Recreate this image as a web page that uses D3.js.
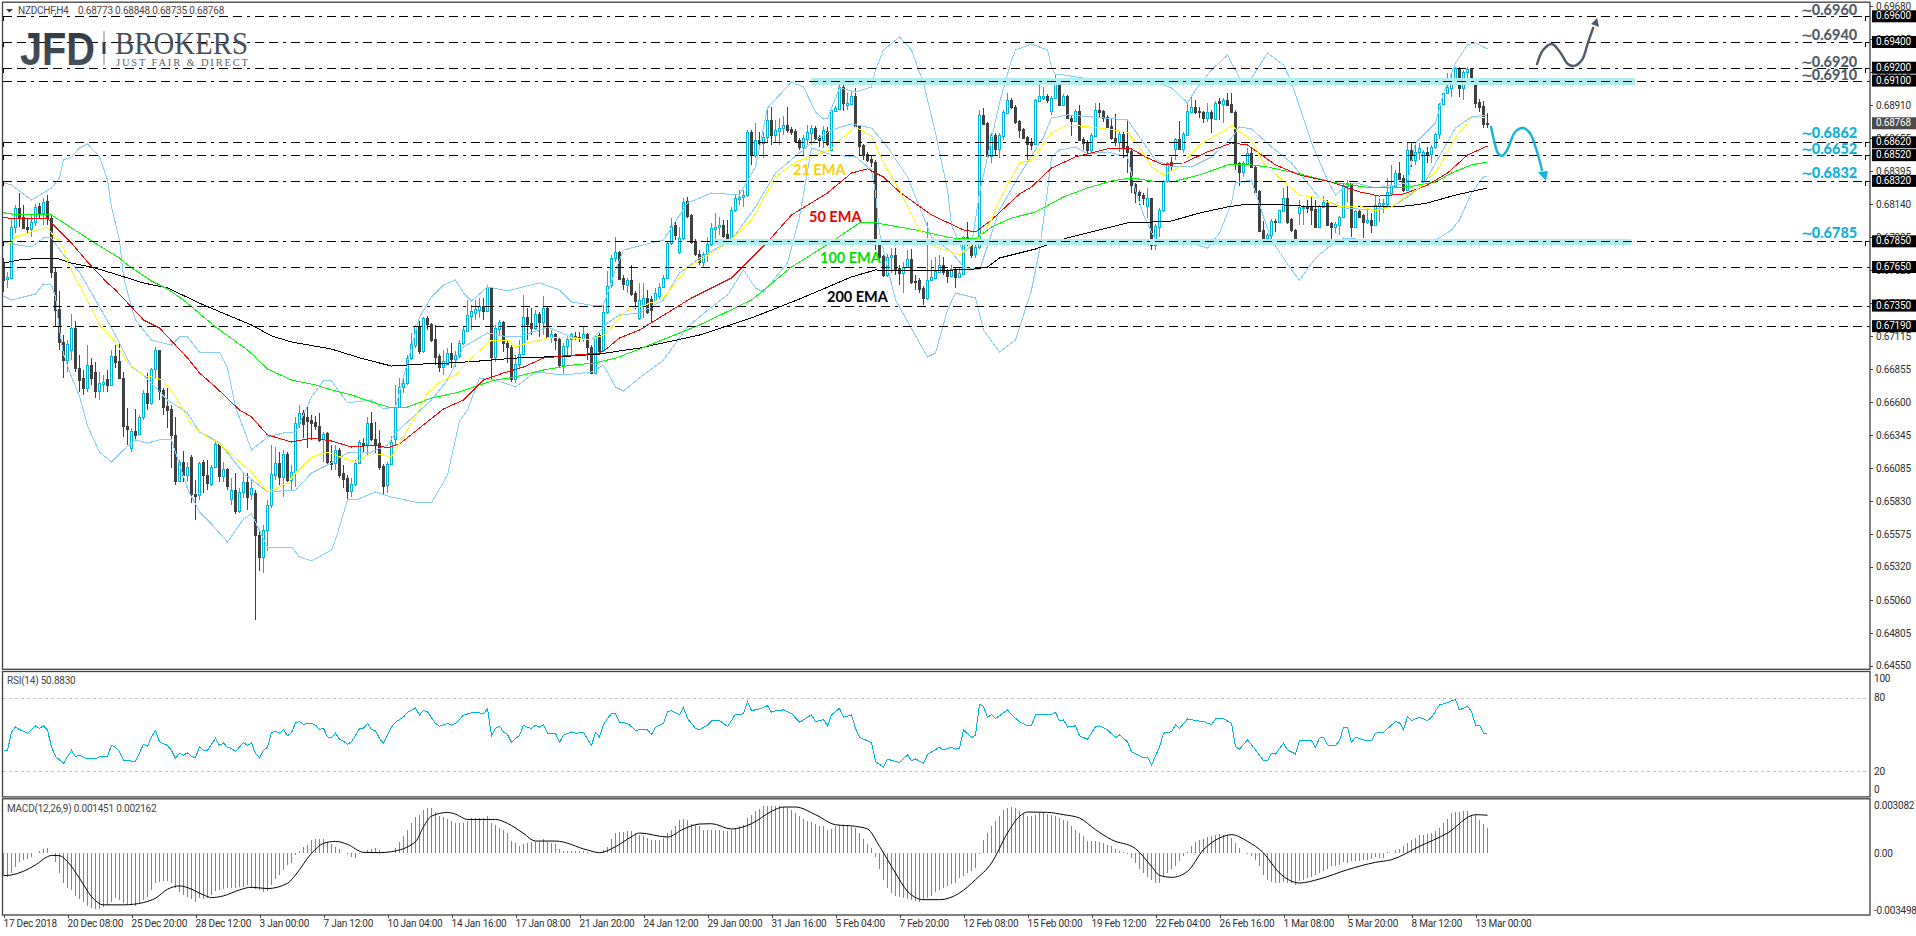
<!DOCTYPE html>
<html><head><meta charset="utf-8">
<style>
html,body{margin:0;padding:0;background:#fff;overflow:hidden}
svg{display:block}
text{font-family:Roboto,"Liberation Sans",sans-serif}
.tick line{stroke:#404040}
.domain{display:none}
</style>
<script src="https://cdnjs.cloudflare.com/ajax/libs/d3/7.8.5/d3.min.js"></script>
</head><body><svg id="c" width="1916" height="936"></svg>
<script>
// ---------- DATA: prices in points (1e-5) ----------
const opens=[67681,67557,67565,67961,68109,68039,67961,67946,68000,68125,68070,68164,68031,67611,67324,67067,66927,67005,67176,66865,66787,66709,66887,66834,66686,66740,66779,66733,66958,66919,66787,66414,66243,66375,66351,66484,66670,66593,66857,67005,66694,66569,66546,66344,65986,66134,66033,66172,65885,65877,66134,66033,65962,66095,66274,66025,66079,65846,65916,65753,65900,65978,65885,65892,65566,65395,65605,65800,66033,66126,66017,66196,65994,66056,66437,66515,66484,66460,66445,66414,66313,66359,66141,66126,66227,66048,66009,65908,65962,66126,66281,66274,66437,66313,66281,66102,65955,66118,66313,66561,66717,66748,66942,67043,67191,66997,67254,67207,67090,66958,66872,66896,66981,66935,66958,67059,67152,67269,67292,67316,67347,67308,67495,66950,67168,67223,67059,67028,66779,66896,66973,67261,67215,67176,67285,67223,67331,67106,67129,67090,66887,67036,67090,67114,67106,67098,67129,67028,66826,67121,67005,67300,67510,67720,67767,67565,67510,67549,67448,67254,67347,67409,67401,67393,67425,67495,67565,67837,67977,67767,67876,68164,68055,67853,67751,67689,67751,67829,67946,67961,67977,67907,67860,68094,68179,68195,68210,68700,68521,68638,68615,68661,68794,68677,68708,68731,68755,68724,68708,68638,68584,68646,68693,68731,68661,68638,68708,68560,68864,68879,69050,68910,68918,68980,68747,68599,68529,68490,68467,67853,67736,67588,67728,67744,67643,67604,67650,67712,67541,67549,67487,67409,67549,67565,67611,67666,67619,67580,67635,67573,67596,67884,67829,67751,67806,68833,68770,68514,68677,68568,68669,68848,68949,68895,68786,68724,68661,68615,68607,68941,68965,68980,68864,68965,69074,68910,68980,68809,68786,68864,68646,68623,68560,68669,68871,68864,68817,68747,68654,68623,68685,68591,68553,68296,68234,68210,68125,68187,67821,67961,68094,68319,68467,68568,68646,68568,68677,68856,68895,68864,68856,68809,68856,68801,68941,68918,68949,68918,68856,68459,68389,68451,68537,68428,68241,67938,67876,67899,68008,68000,68086,68187,68024,67938,68070,68109,68117,68117,68101,67961,68117,68148,67993,67961,67977,68039,68280,68304,67961,68086,68055,68000,68016,67977,68125,68140,68140,68226,68280,68381,68343,68249,68560,68483,68545,68311,68545,68529,68584,68685,68918,69004,69043,69105,69198,69043,69167,69198,69105,68934,68903,68773];
const highs=[67720,67611,68016,68132,68226,68132,68031,68055,68140,68148,68187,68210,68055,67650,67464,67121,67082,67285,67230,66966,66849,67043,66942,66911,66834,66810,66849,67005,67043,67059,66834,66554,66398,66546,66499,66694,66826,66865,67028,67005,66709,66709,66577,66484,66149,66219,66134,66188,65994,66134,66149,66149,66110,66289,66289,66134,66087,66009,66048,65931,66048,66048,65994,65916,65605,65644,65838,66266,66250,66211,66227,66211,66110,66484,66577,66538,66561,66499,66491,66515,66367,66367,66266,66266,66243,66110,66033,66009,66149,66305,66320,66484,66523,66445,66382,66118,66134,66336,66733,66787,66787,66966,67137,67199,67230,67261,67269,67215,67199,66973,67005,67020,67059,66997,67082,67184,67393,67355,67393,67409,67409,67510,67495,67199,67238,67230,67082,67043,66966,67082,67432,67331,67331,67316,67300,67425,67339,67160,67137,67098,67059,67114,67137,67145,67145,67184,67137,67043,67121,67137,67355,67619,67744,67884,67775,67588,67565,67666,67464,67526,67526,67471,67425,67487,67526,67588,67853,68031,68008,67961,68187,68195,68063,67868,67782,67767,67884,67993,68070,68039,68016,68016,68117,68210,68249,68249,68716,68716,68770,68700,68700,68895,68895,68794,68809,68825,68895,68739,68724,68654,68677,68755,68755,68747,68677,68747,68739,68871,68903,69089,69105,69004,69027,69043,68755,68607,68545,68521,68483,67860,67744,67751,67798,67798,67666,67689,67782,67790,67588,67565,67503,68000,67705,67728,67744,67728,67635,67666,67650,67650,67891,68000,67860,67821,68871,68887,68778,68693,68693,68693,68871,69004,68965,68910,68794,68731,68669,68654,68957,69089,69050,68996,68980,69151,69105,68996,68988,68825,68879,68910,68661,68638,68693,68926,68926,68871,68833,68809,68840,68700,68700,68794,68560,68304,68249,68226,68265,68187,67985,68109,68327,68467,68506,68654,68786,68700,68934,68980,68949,68895,68864,68926,68871,68941,68965,68965,69004,69004,68871,68467,68475,68576,68576,68444,68249,68008,67915,68024,68024,68094,68265,68280,68031,67946,68171,68132,68171,68195,68171,68132,68202,68171,68000,68000,68047,68304,68327,68304,68094,68101,68063,68109,68070,68210,68187,68179,68343,68444,68405,68467,68366,68615,68615,68615,68615,68560,68584,68599,68693,68926,69012,69159,69151,69206,69206,69183,69206,69198,69105,68957,68941,68848];
const lows=[67456,67487,67557,67915,67961,67946,67915,67884,67969,68031,67977,67977,67565,67184,67005,66787,66834,66927,66834,66678,66655,66678,66733,66631,66616,66678,66678,66725,66865,66779,66328,66266,66211,66305,66344,66460,66538,66577,66787,66616,66499,66398,66087,65955,65978,65978,65978,65815,65682,65838,65892,65916,65947,66087,65978,65978,65916,65800,65729,65737,65854,65760,65838,64905,65286,65270,65441,65776,65994,65955,65861,65970,65916,65939,66398,66320,66243,66305,66382,66289,66134,66118,66071,66071,66009,65931,65846,65861,65947,66118,66211,66188,66297,66204,66071,65877,65892,66110,66266,66554,66670,66733,66927,67020,66973,66981,67160,67067,66887,66834,66810,66887,66865,66872,66942,67043,67145,67160,67238,67254,67238,67300,66771,66911,67121,66989,66904,66756,66748,66865,66966,67082,67121,67160,67106,67121,67098,67059,67005,66865,66818,66950,66966,67082,67067,67067,66927,66818,66818,66966,66989,67285,67487,67689,67549,67471,67448,67425,67324,67238,67254,67285,67223,67378,67393,67487,67557,67821,67860,67751,67860,68031,67829,67736,67666,67650,67689,67814,67845,67899,67876,67837,67845,68078,68132,68117,68195,68444,68498,68560,68498,68615,68599,68615,68599,68677,68693,68677,68615,68560,68514,68599,68599,68638,68584,68576,68591,68560,68856,68871,68864,68871,68910,68739,68521,68483,68467,68428,67782,67712,67573,67573,67604,67588,67510,67448,67643,67518,67471,67448,67355,67393,67541,67557,67604,67588,67526,67573,67487,67565,67588,67814,67720,67720,67790,68755,68506,68459,68521,68498,68638,68840,68879,68763,68654,68646,68483,68560,68599,68934,68949,68926,68833,68957,68903,68903,68801,68669,68778,68630,68560,68514,68545,68661,68809,68778,68731,68638,68591,68545,68498,68381,68226,68148,68132,68132,68031,67782,67782,67884,68078,68304,68405,68483,68560,68537,68669,68848,68840,68809,68770,68778,68693,68794,68794,68770,68903,68848,68405,68280,68350,68444,68420,68226,67923,67845,67821,67837,67923,67993,68078,67985,67923,67860,67977,67977,68070,67977,67954,67954,68109,67969,67860,67915,67899,68031,68156,67884,67954,68031,67876,67985,67915,67969,68000,68070,68109,68210,68265,68327,68234,68241,68428,68444,68483,68304,68459,68459,68568,68646,68910,68996,68973,69097,68973,68949,69081,69081,68887,68856,68731,68735];
const closes=[67549,67573,67961,68109,68031,67954,67946,68000,68117,68070,68156,68031,67611,67316,67067,66927,67051,67176,66865,66771,66709,66887,66787,66686,66748,66756,66733,66958,66911,66787,66414,66390,66375,66344,66484,66670,66593,66857,67005,66686,66561,66538,66344,65986,66134,66033,66095,65885,65869,66126,66033,65970,66095,66274,66025,66079,65947,65916,65753,65900,65978,65861,65931,65566,65395,65605,65800,66040,66126,66017,66196,65994,66056,66437,66515,66429,66452,66437,66414,66305,66351,66134,66118,66227,66033,66001,65908,65962,66126,66289,66266,66437,66313,66274,66095,65947,66118,66289,66561,66717,66748,66942,67051,67191,66997,67254,67207,67082,66950,66872,66919,66981,66935,66966,67059,67160,67277,67308,67324,67347,67308,67495,66950,67176,67223,67059,67028,66779,66896,66973,67261,67207,67176,67285,67223,67331,67106,67129,67082,66887,67036,67090,67129,67106,67098,67129,67028,66826,67114,66997,67300,67503,67720,67767,67557,67518,67549,67440,67386,67393,67409,67300,67316,67448,67495,67565,67837,67969,67899,67876,68156,68047,67845,67751,67689,67751,67829,67954,67961,67977,67891,67860,68094,68187,68195,68210,68700,68521,68638,68615,68661,68794,68677,68716,68731,68755,68716,68700,68630,68584,68654,68700,68731,68654,68638,68716,68607,68871,68887,69050,68926,68926,68980,68747,68591,68521,68483,68467,67845,67728,67588,67728,67744,67627,67604,67650,67712,67534,67534,67479,67409,67549,67573,67619,67666,67611,67580,67635,67573,67604,67884,67829,67744,67806,68833,68763,68514,68677,68568,68677,68856,68949,68895,68778,68716,68654,68607,68599,68949,68980,68980,68949,68965,69074,68910,68980,68809,68786,68864,68638,68615,68560,68677,68871,68856,68809,68739,68654,68623,68685,68584,68545,68288,68226,68210,68187,68187,67821,67969,68094,68319,68459,68436,68646,68568,68685,68864,68895,68856,68856,68809,68856,68809,68926,68926,68949,68910,68856,68459,68389,68459,68537,68428,68234,67930,67876,67899,68008,68000,68094,68187,68000,67938,67860,68117,68117,68109,68094,67961,68125,68156,67977,67961,67985,68039,68288,68304,67961,68086,68039,68000,68016,67977,68132,68148,68148,68234,68288,68381,68335,68249,68560,68483,68545,68576,68545,68529,68584,68685,68918,69004,69050,69120,69198,69043,69167,69190,69089,68926,68895,68763,68768];

const ema21=[[1,67821],[3,67884],[7,67923],[11,67961],[12,67915],[15,67806],[16,67681],[20,67448],[24,67199],[28,67067],[31,66904],[35,66810],[40,66771],[43,66639],[47,66421],[51,66328],[54,66274],[59,66134],[62,66056],[66,65900],[71,65970],[73,66048],[77,66172],[81,66211],[85,66165],[88,66134],[92,66204],[95,66188],[97,66172],[104,66546],[106,66670],[109,66756],[113,66810],[117,66942],[122,67082],[126,67082],[128,67028],[131,67059],[136,67098],[142,67098],[147,67082],[151,67137],[154,67261],[157,67331],[159,67339],[165,67409],[171,67643],[177,67759],[181,67837],[187,68016],[193,68350],[198,68467],[207,68568],[209,68638],[213,68739],[217,68669],[220,68459],[224,68249],[229,67938],[233,67806],[239,67744],[243,67845],[247,68016],[249,68171],[254,68459],[257,68483],[262,68693],[266,68755],[269,68747],[274,68731],[281,68700],[284,68584],[287,68428],[290,68366],[294,68428],[299,68599],[307,68747],[312,68638],[315,68459],[319,68343],[324,68210],[329,68187],[334,68117],[339,68125],[343,68086],[347,68117],[350,68187],[355,68288],[359,68428],[363,68661],[367,68809],[371,68817]];
const ema50=[[0,68039],[2,68024],[11,68031],[12,67993],[17,67837],[21,67689],[26,67526],[28,67471],[32,67339],[35,67238],[39,67176],[46,66942],[49,66826],[53,66717],[59,66538],[62,66484],[66,66344],[72,66289],[77,66320],[82,66297],[87,66250],[93,66266],[96,66243],[99,66274],[104,66398],[110,66546],[115,66616],[120,66771],[125,66826],[130,66872],[135,66942],[140,66958],[149,66981],[151,67020],[154,67098],[159,67160],[172,67409],[182,67565],[191,67845],[197,68055],[206,68226],[212,68381],[216,68413],[220,68350],[224,68234],[232,68055],[240,67938],[243,67923],[247,68016],[254,68218],[257,68273],[262,68420],[268,68506],[276,68568],[282,68568],[286,68498],[290,68444],[295,68459],[301,68545],[307,68615],[311,68599],[318,68444],[324,68366],[332,68311],[339,68234],[344,68202],[350,68218],[356,68288],[361,68381],[366,68521],[371,68591]];
const ema100=[[0,68078],[1,68063],[12,68055],[22,67853],[29,67720],[31,67666],[37,67541],[41,67479],[45,67393],[53,67184],[61,67005],[66,66857],[72,66771],[78,66733],[82,66694],[87,66655],[92,66600],[97,66554],[101,66561],[107,66631],[114,66678],[119,66733],[123,66771],[128,66795],[135,66849],[142,66887],[148,66904],[153,66942],[159,67012],[174,67199],[187,67393],[197,67650],[207,67845],[214,67993],[217,68000],[228,67938],[237,67876],[243,67868],[247,67961],[252,68031],[258,68078],[265,68195],[271,68265],[277,68319],[282,68343],[287,68319],[292,68311],[299,68366],[306,68444],[312,68444],[316,68428],[324,68374],[332,68311],[342,68265],[351,68273],[358,68311],[362,68381],[367,68444],[371,68467]];
const ema200=[[0,67681],[4,67705],[10,67720],[13,67720],[17,67681],[22,67650],[27,67604],[35,67526],[41,67487],[50,67355],[62,67199],[67,67114],[72,67067],[82,67012],[86,66973],[90,66935],[97,66880],[105,66896],[112,66904],[119,66919],[128,66942],[135,66950],[142,66958],[149,66973],[154,66997],[159,67020],[174,67121],[187,67254],[199,67401],[212,67573],[218,67627],[232,67619],[243,67635],[246,67650],[249,67720],[254,67759],[258,67790],[266,67876],[272,67923],[281,67993],[287,68000],[292,68008],[299,68070],[306,68117],[311,68140],[316,68140],[324,68125],[332,68117],[342,68117],[351,68125],[356,68148],[363,68210],[371,68265]];
const bbUpper=[[0,68304],[2,68288],[7,68171],[12,68265],[14,68343],[15,68483],[17,68506],[19,68576],[21,68607],[24,68506],[26,68327],[27,68117],[29,67860],[30,67573],[32,67339],[33,67238],[37,67082],[42,67043],[44,67106],[46,67106],[49,66989],[54,66989],[56,66865],[58,66561],[62,66227],[66,66328],[70,66359],[73,66367],[77,66639],[80,66764],[82,66764],[86,66593],[92,66616],[95,66546],[98,66561],[104,67261],[107,67417],[110,67510],[113,67549],[115,67448],[117,67386],[121,67495],[126,67464],[134,67526],[139,67471],[142,67378],[148,67347],[150,67355],[153,67627],[155,67782],[159,67814],[165,67860],[171,68148],[177,68226],[184,68210],[188,68428],[191,68887],[197,69089],[200,69050],[203,68856],[205,68801],[206,68809],[209,69043],[213,69011],[217,69050],[218,69183],[220,69338],[224,69439],[227,69338],[230,69081],[233,68693],[236,68249],[237,67977],[240,67759],[242,67821],[244,68226],[249,68926],[252,69260],[253,69338],[257,69385],[261,69338],[262,69206],[263,69144],[265,69144],[270,69120],[277,69120],[282,69081],[287,69097],[292,69043],[296,68926],[298,69027],[302,69183],[306,69299],[309,69120],[312,69120],[316,69315],[320,69221],[322,69089],[327,68615],[331,68327],[333,68210],[336,68288],[338,68304],[343,68265],[351,68304],[353,68615],[358,68770],[360,69004],[363,69237],[366,69377],[368,69393],[371,69346]];
const bbMiddle=[[0,67845],[2,67829],[7,67806],[10,67876],[12,67876],[15,67744],[19,67611],[22,67448],[27,67176],[29,67059],[32,66872],[35,66810],[41,66616],[46,66515],[49,66367],[52,66320],[54,66281],[57,66165],[60,66048],[66,65900],[73,65916],[77,66048],[81,66110],[86,66204],[92,66211],[96,66266],[98,66359],[107,66616],[111,66771],[115,67028],[121,67137],[126,67106],[129,67106],[136,67184],[142,67106],[147,67082],[151,67215],[154,67277],[159,67292],[165,67393],[169,67604],[174,67720],[182,67860],[188,68117],[193,68381],[199,68537],[202,68615],[207,68716],[212,68763],[217,68731],[221,68584],[226,68350],[232,67884],[237,67767],[240,67650],[244,67627],[249,68094],[254,68366],[260,68661],[262,68809],[266,68833],[272,68817],[281,68794],[284,68661],[288,68483],[292,68428],[297,68428],[302,68506],[307,68654],[309,68739],[312,68724],[317,68584],[322,68459],[326,68304],[329,68187],[335,68109],[342,68094],[347,68117],[351,68195],[355,68288],[358,68459],[363,68731],[367,68817],[371,68833]];
const bbLower=[[0,67425],[2,67393],[4,67409],[8,67440],[10,67518],[12,67510],[13,67417],[14,67160],[15,66973],[17,66795],[19,66647],[21,66414],[24,66211],[27,66134],[30,66227],[33,66305],[36,66281],[39,66305],[42,66305],[46,65924],[49,65745],[52,65651],[56,65511],[60,65690],[62,65729],[66,65472],[72,65472],[74,65395],[77,65364],[82,65449],[83,65527],[86,65838],[88,65838],[93,65900],[97,65861],[104,65815],[107,65815],[111,66033],[114,66452],[116,66538],[119,66787],[123,66771],[128,66717],[133,66834],[140,66810],[147,66834],[150,66887],[153,66717],[155,66686],[159,66787],[165,66927],[171,67184],[177,67339],[181,67432],[185,67627],[188,67487],[190,67456],[196,67681],[199,68039],[202,68576],[207,68521],[213,68506],[217,68405],[218,68226],[219,67915],[221,67650],[223,67393],[231,66950],[233,66981],[236,67316],[238,67448],[243,67409],[245,67160],[249,66989],[253,67082],[257,67471],[259,67782],[261,68249],[262,68506],[264,68560],[268,68584],[271,68529],[276,68545],[281,68506],[283,68249],[285,68055],[288,67860],[292,67837],[294,67860],[301,67798],[304,67915],[307,68148],[308,68304],[312,68327],[315,68039],[317,67860],[322,67627],[324,67549],[328,67720],[331,67798],[335,67876],[341,67860],[351,67845],[357,67837],[362,67938],[364,68016],[367,68226],[370,68350],[371,68358]];

const rsiValues=[[0,36.8],[1,36.8],[2,52],[3,56],[4,54],[6,51],[8,57],[9,55],[10,57],[11,53.5],[12,40],[13,32],[15,26.5],[16,32],[17,37],[18,32],[19,33],[21,30],[23,30],[24,32],[26,32],[27,41],[28,39.5],[29,36],[30,29],[33,28],[35,42],[36,40.5],[37,48],[38,53],[39,44],[41,41],[42,37],[43,30.5],[44,34.5],[45,33],[46,35],[47,32],[48,31],[49,40],[50,37],[51,37],[52,42],[53,47],[54,41],[55,43],[56,39.5],[57,38.5],[58,36],[60,43.5],[61,41],[62,43],[63,34.5],[64,31],[65,37],[66,39.5],[67,51.6],[68,52.7],[69,50.8],[70,54],[71,49],[72,51.4],[73,59.5],[74,60.5],[75,58.4],[77,59],[78,57.6],[79,54],[80,55],[81,48],[82,47.6],[83,51],[84,46],[85,44.6],[86,42],[87,44],[89,54.6],[90,55],[91,59],[92,54],[93,53],[94,46.7],[95,42.7],[96,49.5],[97,56],[98,60],[100,64.3],[101,68],[103,71.6],[104,65.7],[105,69.7],[106,68.4],[108,59],[109,56.8],[111,59],[112,57.6],[113,59],[115,65.7],[117,67.6],[119,67.6],[120,67],[121,71],[122,49],[123,55],[124,56.8],[125,52],[126,50],[127,43.5],[128,46.7],[129,49],[130,57.6],[131,55.7],[132,55],[133,57.6],[134,56],[135,58],[136,51],[138,51],[139,43.5],[140,49.5],[142,52],[143,51],[145,51.6],[147,41],[148,51.6],[149,48],[150,58],[151,63],[152,67],[153,67],[154,60],[156,59],[158,53.5],[159,53.7],[161,53.7],[162,50],[163,55.8],[165,59],[166,68.6],[167,69.4],[169,66],[170,72],[171,63],[173,55],[174,53.7],[176,57.7],[177,61],[179,61.3],[181,56.4],[183,66.4],[185,66.7],[186,76.7],[187,69.4],[189,70.8],[191,73.5],[192,68],[193,69.4],[195,70],[197,67],[199,60],[202,66],[203,60.5],[205,62],[206,57],[207,66],[209,71.3],[210,64],[212,66],[213,55],[214,47.7],[217,43.3],[218,28],[220,23.3],[221,29.8],[224,27.3],[226,33.3],[227,28.7],[228,30],[230,26.5],[231,33.8],[234,39.5],[235,37.4],[237,39.5],[238,38],[239,38.7],[240,53.7],[242,47.4],[243,49.6],[244,74.6],[245,73],[246,64],[247,66],[248,63],[251,70],[252,66],[254,60.5],[256,57],[257,57],[258,66.4],[262,66.4],[263,68],[264,61],[265,62],[266,56],[268,57],[269,49],[271,46],[273,56.4],[274,57],[276,53.7],[278,47.4],[279,49.6],[281,44],[282,36],[285,31],[286,31.4],[287,25],[289,40],[290,51],[292,52.3],[293,57.7],[294,55],[296,62.6],[298,61.3],[300,60.5],[302,58],[303,62.6],[305,63],[307,59],[308,40],[309,38],[311,45.5],[313,37.4],[315,28.7],[316,28.7],[317,34.7],[318,34],[320,42.8],[321,37.4],[323,34],[324,45],[327,45],[328,39.5],[329,47],[330,47.7],[331,41.4],[333,41],[334,45],[335,55.8],[336,55.8],[337,43.3],[338,47.7],[340,45.5],[342,44.7],[343,51],[345,51.8],[348,60.5],[349,59.6],[350,54],[351,64.5],[352,61.3],[354,64],[356,61.3],[357,64],[359,74],[361,76],[363,78.6],[364,70],[366,73],[367,68.6],[368,57.7],[369,57.7],[370,51],[371,50.88]];

// MACD values in millionths
const macdBars=[-1254,-1387,-1159,-779,-494,-399,-342,-209,-19,114,209,266,19,-494,-1159,-1729,-2014,-2109,-2451,-2641,-2774,-3021,-3116,-3173,-3173,-3059,-2964,-2774,-2584,-2679,-2831,-2907,-2964,-3021,-2869,-2679,-2489,-2109,-1729,-1634,-1596,-1596,-1691,-2014,-2204,-2394,-2489,-2641,-2774,-2584,-2641,-2584,-2394,-2147,-2109,-2071,-2014,-2014,-1976,-1919,-1957,-1824,-2014,-2071,-2109,-2204,-2166,-1824,-1501,-1254,-969,-684,-589,-114,133,361,456,741,779,798,798,551,494,361,228,-19,-76,-209,-266,-76,76,171,209,266,171,38,19,-19,266,646,988,1311,1691,2071,2166,2451,2584,2546,2356,2109,2071,1919,1824,1729,1729,1729,1843,1976,2014,1976,1976,2109,1691,1596,1444,1311,1121,703,551,418,513,551,608,646,646,779,646,589,494,209,114,114,114,114,114,114,76,-19,-19,-19,171,361,798,1159,1178,1216,1254,1254,1121,1026,
952,857,724,724,724,857,1143,1333,1524,1867,1943,1905,1676,1581,1524,1333,1295,1295,1333,1295,1276,1238,1295,1429,1524,1619,2000,2191,2381,2515,2667,2705,2705,2705,2667,2629,2572,2438,2286,2096,1962,1848,1753,1657,1562,1524,1333,1391,1524,1581,1581,1524,1486,1429,1143,819,533,286,-229,-895,-1524,-2000,-2286,-2477,-2534,-2572,-2629,-2667,-2724,-2819,-2705,-2572,-2477,-2248,-2134,-2000,-1867,-1753,-1715,-1429,-1295,-1143,-1010,-857,-38,762,1143,1524,1810,2096,2438,2572,2610,2572,2419,2286,2096,2134,2191,2286,2286,2248,2191,2096,2000,1867,1810,1524,1333,1143,952,667,667,667,629,572,476,381,229,95,57,-38,-286,-572,-895,-1143,-1391,-1562,-1715,-1715,-1391,-1143,-914,-762,-476,-152,38,381,610,762,819,895,991,1010,1086,1048,1010,857,572,286,0,-38,-152,-419,-762,-1276,-1524,-1676,-1715,-1715,-1676,-1715,-1715,-1810,-1619,-1562,-1429,-1372,-1238,-1143,-1048,-914,-762,-762,-667,-533,-572,-476,-438,-476,-419,-381,-343,-248,-286,-286,38,0,191,229,381,572,762,857,1010,1048,1086,1143,1238,1429,1714,1962,2286,2324,2324,2381,2419,2096,2191,1905,1676,1451];
const macdSignal=[[0,-1292],[2,-1254],[8,-684],[11,-209],[12,-133],[14,-152],[16,-494],[19,-1444],[22,-2489],[25,-2964],[30,-2964],[35,-2831],[38,-2584],[41,-2071],[44,-1881],[46,-1976],[50,-2394],[52,-2546],[55,-2451],[59,-2109],[62,-1957],[66,-2033],[71,-1729],[73,-1254],[77,-19],[80,551],[83,665],[86,494],[90,38],[94,19],[97,76],[103,646],[105,1501],[107,2109],[111,2318],[113,2223],[116,1919],[123,1919],[126,1691],[130,1121],[133,684],[138,684],[146,171],[149,19],[153,361],[157,931],[159,1143],[166,914],[170,1372],[174,1657],[177,1676],[182,1372],[187,1676],[192,2381],[195,2629],[198,2629],[203,2191],[208,1619],[213,1524],[216,1372],[219,381],[223,-1143],[226,-2191],[230,-2667],[234,-2667],[239,-2286],[243,-1524],[247,-572],[251,1143],[254,2096],[256,2343],[261,2324],[265,2191],[269,2000],[273,1333],[277,762],[283,248],[287,-762],[289,-1276],[292,-1391],[296,-1048],[300,191],[304,857],[307,1048],[311,667],[315,0],[319,-1143],[324,-1715],[329,-1486],[336,-953],[343,-533],[347,-381],[354,381],[361,1143],[368,2191],[371,2162]];

const dateLabels=["17 Dec 2018","20 Dec 08:00","25 Dec 20:00","28 Dec 12:00","3 Jan 00:00","7 Jan 12:00","10 Jan 04:00","14 Jan 16:00","17 Jan 08:00","21 Jan 20:00","24 Jan 12:00","29 Jan 00:00","31 Jan 16:00","5 Feb 04:00","7 Feb 20:00","12 Feb 08:00","15 Feb 00:00","19 Feb 12:00","22 Feb 04:00","26 Feb 16:00","1 Mar 08:00","5 Mar 20:00","8 Mar 12:00","13 Mar 00:00"];
const priceTicks=[69680,69425,69170,68910,68655,68395,68140,67885,67625,67370,67115,66855,66600,66345,66085,65830,65575,65320,65060,64805,64550];
const levelLines=[69600,69400,69200,69100,68620,68520,68320,67850,67650,67350,67190];
const hookedLevels=[69600,69400,69200,68620,68520,68320,67850];
const currentPrice=68768;
const zones=[{from:201.9,to:407.9,hi:69120,lo:69066},{from:177.4,to:406.9,hi:67868,lo:67821}];
const levelNotes=[["0.6960","#56606a",9.5],["0.6940","#56606a",34.5],["0.6920","#56606a",61.5],["0.6910","#56606a",74.5],["0.6862","#0fb1da",132.5],["0.6652","#0fb1da",148.5],["0.6832","#0fb1da",172.5],["0.6785","#0fb1da",232.5]];
const bullPath=[[383.4,69229],[384.9,69338],[387.1,69385],[389.1,69323],[391.1,69229],[392.6,69214],[394.6,69260],[396.1,69393],[397.4,69509]];
const bullHead=[[398.4,69587],[396.9,69540],[398.9,69517]];
const bearPath=[[371.9,68739],[372.6,68638],[373.6,68537],[374.6,68514],[375.9,68560],[377.9,68700],[379.9,68731],[381.6,68693],[383.4,68545],[384.6,68405]];
const bearHead=[[383.6,68389],[386.1,68397],[385.6,68319]];

// ---------- SCALES ----------
const x=d3.scaleLinear().domain([0,371]).range([3.5,1487.5]);
const y=d3.scaleLinear().domain([69600,64550]).range([16.3,665.6]);
const yRsi=d3.scaleLinear().domain([0,100]).range([795.8,673.1]);
const yMacd=d3.scaleLinear().domain([-3498,3082]).range([914.2,799.1]);
const svg=d3.select("#c");
const AXIS=1870, DARK="#404040", UP="#00b4e0", TICKSIZE="10px", TICKSPACE="-0.22px";
const lineOf=(ys,curve)=>{const l=d3.line().x(d=>x(d[0])).y(d=>ys(d[1]));if(curve)l.curve(curve);return l;};
const px=v=>Math.round(v);

// ---------- CANDLES ----------
const gC=svg.append("g").attr("shape-rendering","crispEdges");
closes.forEach((c,i)=>{
  const o=opens[i],h=highs[i],l=lows[i],up=c>=o,cx=x(i);
  const col=up?UP:DARK;
  gC.append("line").attr("x1",cx).attr("x2",cx).attr("y1",px(y(h))).attr("y2",px(y(l))).attr("stroke",col).attr("stroke-width",1);
  const top=px(y(Math.max(o,c))),bot=Math.max(px(y(Math.min(o,c))),top+1);
  if(up) gC.append("rect").attr("x",cx-1).attr("width",2).attr("y",top+.5).attr("height",bot-top).attr("fill","#fff").attr("stroke",col).attr("stroke-width",1);
  else gC.append("rect").attr("x",cx-1.5).attr("width",3).attr("y",top).attr("height",bot-top+1).attr("fill",col);
});

// ---------- OVERLAYS ----------
[[bbUpper,"#87cefa"],[bbMiddle,"#87cefa"],[bbLower,"#87cefa"],[ema200,"#000"],[ema100,"#00ff00"],[ema50,"#ff0000"],[ema21,"#ffff00"]].forEach(([d,c])=>{
  svg.append("path").attr("d",lineOf(y)(d)).attr("fill","none").attr("stroke",c).attr("stroke-width",1).attr("shape-rendering","crispEdges");
});

zones.forEach(z=>svg.append("rect").attr("x",x(z.from)).attr("width",x(z.to)-x(z.from)).attr("y",y(z.hi)).attr("height",y(z.lo)-y(z.hi)).attr("fill","#aeeeee"));

levelLines.forEach(v=>svg.append("line").attr("x1",3).attr("x2",AXIS).attr("y1",px(y(v))+.5).attr("y2",px(y(v))+.5).attr("stroke","#000").attr("stroke-width",1).attr("stroke-dasharray","9,5,9,5,3,5").attr("shape-rendering","crispEdges"));
hookedLevels.forEach(v=>{
  const b=px(y(v))+.5;
  svg.append("path").attr("d",`M3.5 ${b+4}V${b}H8M${AXIS-5} ${b+4}V${b}H${AXIS-1}`).attr("fill","none").attr("stroke","#000").attr("shape-rendering","crispEdges");
});

// ---------- ANNOTATIONS ----------
const lblFont='Lato,"Open Sans",sans-serif';
levelNotes.forEach(([t,c,cy])=>{
  const e=svg.append("text").attr("x",1802).attr("y",cy).attr("dy",".36em").attr("fill",c).style("font-family",lblFont).style("font-weight",900).style("font-size","14.5px");
  e.append("tspan").text("~").style("font-family","'DejaVu Sans'").style("font-weight",700).style("font-size","14px").attr("dx","-1");
  e.append("tspan").text(t).attr("dx","-1");
});
[["21 EMA",793,170,"#ffd000"],["50 EMA",809,217,"#f00000"],["100 EMA",820,258,"#00e000"],["200 EMA",827,297,"#000"]].forEach(([t,tx,ty,c])=>
  svg.append("text").text(t).attr("x",tx).attr("y",ty).attr("dy",".36em").attr("fill",c).style("font-family",lblFont).style("font-weight",700).style("font-size","14.5px"));
const arrow=(pts,head,c)=>{
  svg.append("path").attr("d",lineOf(y,d3.curveCatmullRom)(pts)).attr("fill","none").attr("stroke",c).attr("stroke-width",2.4).attr("stroke-linecap","round");
  svg.append("path").attr("d",lineOf(y)(head)+"Z").attr("fill",c);
};
arrow(bullPath,bullHead,"#4e5b67");
arrow(bearPath,bearHead,"#14b4dc");

// ---------- RSI ----------
[80,20].forEach(v=>svg.append("line").attr("x1",3).attr("x2",AXIS).attr("y1",px(yRsi(v))+.5).attr("y2",px(yRsi(v))+.5).attr("stroke","#c0c0c0").attr("stroke-dasharray","3,3").attr("shape-rendering","crispEdges"));
svg.append("path").attr("d",lineOf(yRsi)(rsiValues)).attr("fill","none").attr("stroke",UP).attr("stroke-width",1).attr("shape-rendering","crispEdges");

// ---------- MACD ----------
const gM=svg.append("g").attr("shape-rendering","crispEdges");
macdBars.forEach((v,i)=>gM.append("line").attr("x1",x(i)).attr("x2",x(i)).attr("y1",px(yMacd(0))).attr("y2",px(yMacd(v))).attr("stroke",UP));
svg.append("path").attr("d",lineOf(yMacd,d3.curveMonotoneX)(macdSignal)).attr("fill","none").attr("stroke","#000").attr("stroke-width",1);

// ---------- FRAMES ----------
const frame=(t,b)=>svg.append("rect").attr("x",2.5).attr("y",t).attr("width",AXIS-2.5).attr("height",b-t).attr("fill","none").attr("stroke",DARK).attr("stroke-width",1.3);
frame(2.2,669.3);frame(671.5,796.9);frame(798.8,915);

// ---------- AXES ----------
const small=s=>s.style("font-size",TICKSIZE).style("letter-spacing",TICKSPACE);
const style=g=>{small(g.selectAll("text")).attr("fill","#2f2f2f").style("font-family","Roboto,sans-serif");g.select(".domain").remove();g.selectAll(".tick line").attr("stroke",DARK).attr("shape-rendering","crispEdges");};
svg.append("g").attr("transform",`translate(${AXIS},0)`).call(d3.axisRight(y).tickValues(priceTicks).tickFormat(v=>(v/1e5).toFixed(5)).tickSize(3).tickPadding(3)).call(style);
const tag=(v,c)=>{
  const cy=y(v)-.5;
  svg.append("rect").attr("x",1872).attr("y",cy-5.5).attr("width",44).attr("height",12).attr("fill",c);
  small(svg.append("text").text((v/1e5).toFixed(5)).attr("x",1876).attr("y",cy).attr("dy",".36em").attr("fill","#fff"));
};
levelLines.forEach(v=>tag(v,"#000"));
tag(currentPrice,"#4b4b4b");

const rsiLabels=[[100,678],[80,697.7],[20,771.3],[0,789]];
rsiLabels.forEach(([v,cy])=>small(svg.append("text").text(v).attr("x",1874).attr("y",cy).attr("dy",".36em").attr("fill","#2f2f2f")));
[[0.003082,805],[0.00,853],[-0.003498,910]].forEach(([v,cy])=>small(svg.append("text").text(v===0?"0.00":v.toFixed(6)).attr("x",1874).attr("y",cy).attr("dy",".36em").attr("fill","#2f2f2f")));

const xTicks=dateLabels.map((_,k)=>k*16);
const xa=svg.append("g").attr("transform","translate(0,915)").call(d3.axisBottom(x).tickValues(xTicks).tickFormat((_,k)=>dateLabels[k]).tickSize(3).tickPadding(3)).call(style);
xa.selectAll("text").attr("text-anchor","start").attr("x",-.5).attr("dy",".71em").attr("y",5);

// ---------- HEADERS ----------
svg.append("path").attr("d","M6 9h7l-3.5 3.5z").attr("fill","#333");
small(svg.append("text").text("NZDCHF,H4").attr("x",18).attr("y",10).attr("dy",".36em").attr("fill","#445"));
small(svg.append("text").text("0.68773 0.68848 0.68735 0.68768").attr("x",78).attr("y",10).attr("dy",".36em").attr("fill","#544"));
small(svg.append("text").text("RSI(14) 50.8830").attr("x",7).attr("y",680.5).attr("dy",".36em").attr("fill","#444"));
small(svg.append("text").text("MACD(12,26,9) 0.001451 0.002162").attr("x",7).attr("y",808).attr("dy",".36em").attr("fill","#444"));

// ---------- LOGO ----------
const defs=svg.append("defs");
const gr=defs.append("linearGradient").attr("id","lg").attr("x1",0).attr("x2",0).attr("y1",0).attr("y2",1);
gr.append("stop").attr("offset",0).attr("stop-color","#2c343d");gr.append("stop").attr("offset",1).attr("stop-color","#4c5864");
svg.append("text").text("JFD").attr("x",20).attr("y",65).attr("fill","url(#lg)").style("font-family","'Liberation Sans'").style("font-weight",700).style("font-size","47px").attr("textLength",75).attr("lengthAdjust","spacingAndGlyphs");
svg.append("line").attr("x1",104).attr("x2",104).attr("y1",31).attr("y2",65).attr("stroke","#7d8791");
svg.append("rect").attr("x",102.5).attr("y",42).attr("width",3).attr("height",12).attr("fill","#3a434d");
svg.append("text").text("BROKERS").attr("x",115).attr("y",54).attr("fill","#454f5a").style("font-family","'Liberation Serif'").style("font-size","31px").attr("textLength",133).attr("lengthAdjust","spacingAndGlyphs");
svg.append("text").text("JUST FAIR & DIRECT").attr("x",116).attr("y",66).attr("fill","#5b6570").style("font-family","'Liberation Serif'").style("font-size","10.5px").attr("textLength",132);
</script></body></html>
